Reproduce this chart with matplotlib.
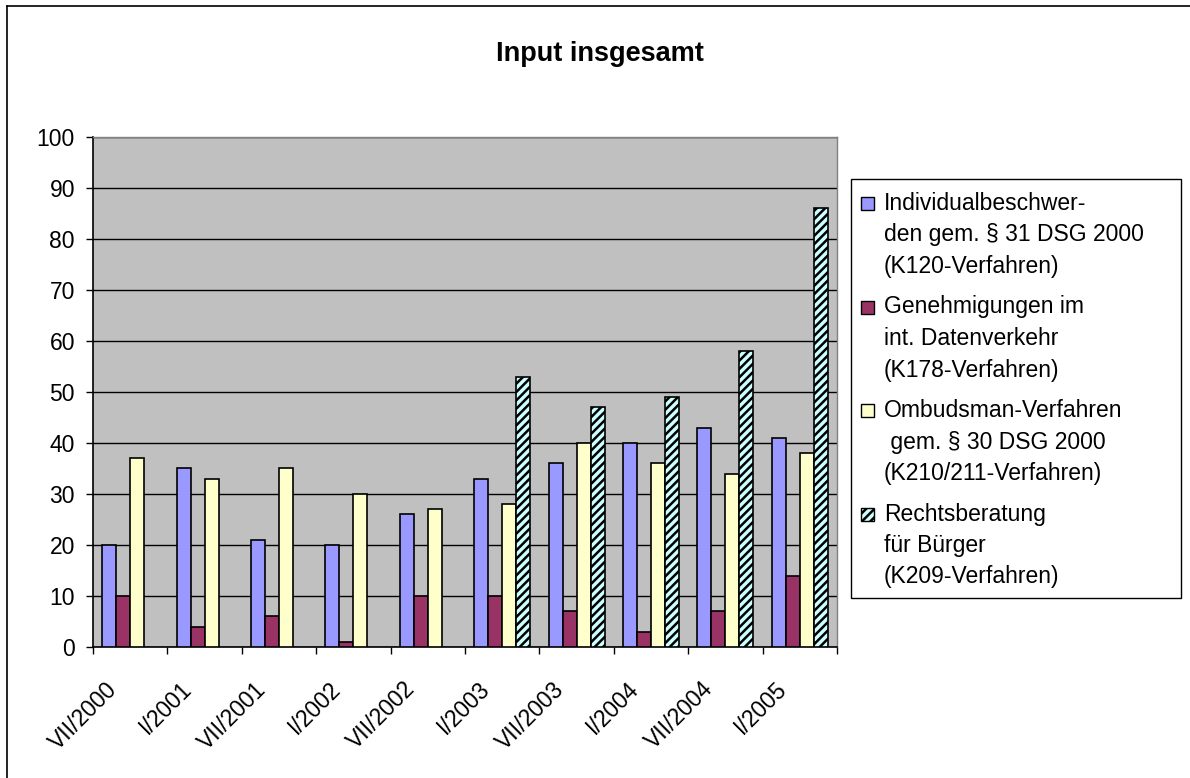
import numpy as np
import matplotlib
matplotlib.use("Agg")
import matplotlib.pyplot as plt
import matplotlib.patches as mpatches
import matplotlib.lines as mlines
import matplotlib.transforms as mtransforms

plt.rcParams['font.family'] = ['Liberation Sans', 'DejaVu Sans']
plt.rcParams['hatch.linewidth'] = 1.8
plt.rcParams['hatch.color'] = 'black'

# half-year periods
periods = ['VII/2000', 'I/2001', 'VII/2001', 'I/2002', 'VII/2002',
           'I/2003', 'VII/2003', 'I/2004', 'VII/2004', 'I/2005']

k120 = [20, 35, 21, 20, 26, 33, 36, 40, 43, 41]
k178 = [10, 4, 6, 1, 10, 10, 7, 3, 7, 14]
k210 = [37, 33, 35, 30, 27, 28, 40, 36, 34, 38]
k209 = [np.nan, np.nan, np.nan, np.nan, np.nan, 53, 47, 49, 58, 86]

series_labels = [
    'Individualbeschwer-\nden gem. § 31 DSG 2000\n(K120-Verfahren)',
    'Genehmigungen im\nint. Datenverkehr\n(K178-Verfahren)',
    'Ombudsman-Verfahren\n gem. § 30 DSG 2000\n(K210/211-Verfahren)',
    'Rechtsberatung\nfür Bürger\n(K209-Verfahren)',
]
colors = ['#9999FF', '#993366', '#FFFFCC', '#CCFFFF']
hatches = [None, None, None, '////']

W, H = 1190, 778
fs = 16.5
fig = plt.figure(figsize=(W / 100, H / 100), dpi=100)
fig.patch.set_facecolor('white')

# chart border: only the left and top edge fall inside the image
fig.lines.append(mlines.Line2D([7 / W, 7 / W], [0, 1 - 6 / H], transform=fig.transFigure,
                               color='black', linewidth=1.2))
fig.lines.append(mlines.Line2D([7 / W, 1], [1 - 6 / H, 1 - 6 / H], transform=fig.transFigure,
                               color='black', linewidth=1.2))

ax = fig.add_axes([93 / W, (H - 647) / H, 744 / W, 510 / H])
ax.set_facecolor('#C0C0C0')

x = np.arange(len(periods))
bw = 0.188
data = [k120, k178, k210, k209]
for i, vals in enumerate(data):
    ax.bar(x + (i - 1.5) * bw, vals, width=bw, color=colors[i],
           edgecolor='black', linewidth=1.2, hatch=hatches[i], zorder=3)

ax.set_xlim(-0.5, len(periods) - 0.5)
ax.set_ylim(0, 100)
ax.set_yticks(np.arange(0, 101, 10))
ax.yaxis.grid(True, color='black', linewidth=1.0, zorder=1)
ax.set_axisbelow(True)

for s in ['top', 'right']:
    ax.spines[s].set_color('#808080')
    ax.spines[s].set_linewidth(1.0)
for s in ['left', 'bottom']:
    ax.spines[s].set_color('black')
    ax.spines[s].set_linewidth(1.2)

ax.tick_params(axis='y', direction='out', length=5, width=1, labelsize=fs, pad=8)
ax.set_xticks(x)
ax.set_xticklabels(periods, rotation=45, ha='right', fontsize=fs)
ax.set_xticks(np.arange(-0.5, len(periods) + 0.5, 1), minor=True)
ax.tick_params(axis='x', which='major', length=0, pad=22)
ax.tick_params(axis='x', which='minor', direction='out', length=5, width=1)
shift = mtransforms.ScaledTranslation(-0.08, 0, fig.dpi_scale_trans)
for lab in ax.get_xticklabels():
    lab.set_transform(lab.get_transform() + shift)

fig.text(600 / W, 1 - 54 / H, 'Input insgesamt', ha='center', va='center',
         fontsize=19.5, fontweight='bold')

# legend box drawn by hand so the key sits on the first text line
fig.patches.append(mpatches.Rectangle((851 / W, 1 - 598 / H), 330 / W, 419 / H,
                                      transform=fig.transFigure, facecolor='white',
                                      edgecolor='black', linewidth=1.0))
first_base = 210
entry_step = 103.5
line_step = 31.5
for i, lab in enumerate(series_labels):
    base = first_base + i * entry_step
    fig.patches.append(mpatches.Rectangle((861 / W, 1 - base / H), 13 / W, 13 / H,
                                          transform=fig.transFigure,
                                          facecolor=colors[i], edgecolor='black',
                                          linewidth=1.0, hatch=hatches[i]))
    for j, line in enumerate(lab.split('\n')):
        fig.text(884 / W, 1 - (base + j * line_step) / H, line, ha='left',
                 va='baseline', fontsize=fs)

fig.savefig('out.png', dpi=100)
